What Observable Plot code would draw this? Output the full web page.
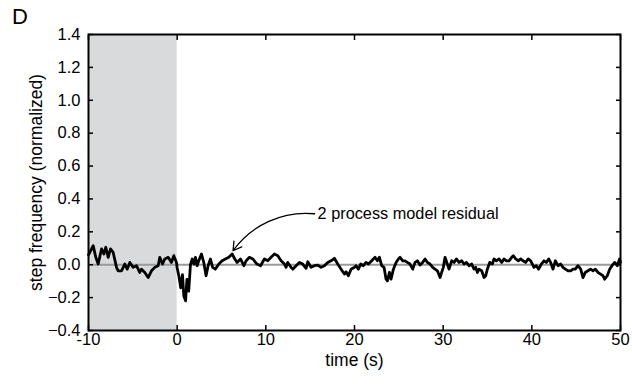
<!DOCTYPE html>
<html><head><meta charset="utf-8">
<script src="https://cdn.jsdelivr.net/npm/d3@7"></script>
<script src="https://cdn.jsdelivr.net/npm/@observablehq/plot@0.6"></script>
<style>
body{margin:0;background:#fff;font-family:"Liberation Sans",Arial,sans-serif}
#wrap{position:relative;width:632px;height:384px}
#panel{position:absolute;left:12px;top:6px;font-size:22px;line-height:1;color:#000}
</style>
</head><body><div id="wrap"><div id="panel">D</div><div id="chart"></div></div>
<script>
const times = [-10,-9.85,-9.47,-9.18,-8.91,-8.53,-8.27,-8.05,-7.78,-7.52,-7.22,-6.84,-6.65,-6.28,-5.91,-5.64,-5.34,-4.96,-4.59,-4.22,-4.02,-3.65,-3.27,-2.9,-2.52,-2.14,-1.96,-1.66,-1.4,-1.01,-0.64,-0.38,-0.08,
0.0,0.2,0.4,0.6,0.75,0.95,1.1,1.3,1.5,1.7,1.9,2.06,2.25,2.44,2.74,3.0,3.26,3.49,3.75,4.0,4.3,4.7,5.07,5.44,5.82,6.2,6.5,6.76,7.14,7.52,7.78,8.15,8.53,9.0,9.4,
9.84,10.22,10.59,10.97,11.35,11.72,12.1,12.28,12.47,12.85,13.04,13.41,13.79,14.16,14.54,14.73,15.1,15.48,15.86,16.23,16.61,16.98,17.36,17.73,18.11,18.49,18.86,19.05,19.31,19.61,
20.0,20.18,20.44,20.7,21.0,21.3,21.57,21.83,22.13,22.32,22.58,22.81,23.07,23.33,23.56,23.71,23.93,24.12,24.39,24.69,24.95,25.14,25.44,25.7,25.96,26.26,26.57,26.83,27.09,27.39,27.69,27.96,28.22,28.52,28.82,29.08,29.35,29.65,29.83,
30.02,30.21,30.47,30.66,30.96,31.23,31.49,31.79,32.09,32.35,32.62,32.92,33.22,33.48,33.67,33.86,34.04,34.34,34.61,34.8,34.98,35.25,35.55,35.73,36.0,36.3,36.6,36.86,37.13,37.43,37.73,37.91,38.18,38.48,38.74,39.0,39.3,39.6,39.87,
40.06,40.24,40.51,40.77,41.07,41.37,41.63,41.9,42.12,42.39,42.65,42.95,43.25,43.51,43.78,44.08,44.38,44.64,44.9,45.2,45.51,45.77,46.03,46.33,46.63,46.9,47.16,47.46,47.76,48.02,48.21,48.51,48.78,49.04,49.34,49.64,49.9,50.0];
const values = [0.06,0.075,0.116,0.045,0.004,0.096,0.065,0.106,0.045,0.096,0.075,-0.016,-0.037,-0.037,0.004,-0.027,0.014,-0.016,-0.006,-0.047,-0.027,-0.047,-0.078,-0.037,-0.016,-0.006,0.045,0.004,0.035,0.045,0.014,0.055,0.014,
-0.02,-0.07,-0.14,-0.06,-0.19,-0.22,-0.09,-0.16,0.0,0.035,0.004,0.045,-0.006,0.025,0.065,0.014,-0.067,-0.006,0.035,-0.016,-0.027,0.004,0.024,0.035,0.045,0.065,0.035,0.014,0.035,-0.006,0.024,0.045,0.035,0.004,-0.006,
0.035,0.024,0.045,0.065,0.055,0.024,0.004,-0.016,0.014,-0.016,-0.027,-0.006,0.014,0.004,-0.022,0.018,-0.016,-0.006,-0.002,-0.016,-0.006,0.014,0.024,0.039,0.004,-0.027,-0.057,-0.043,-0.067,-0.027,
-0.016,-0.006,-0.027,0.004,-0.006,0.014,0.004,0.018,0.035,0.045,0.024,0.045,-0.006,-0.016,-0.088,-0.098,-0.047,-0.088,-0.027,0.014,0.035,0.045,0.024,0.024,0.014,0.004,-0.027,0.014,0.024,-0.002,0.014,0.035,0.014,0.004,-0.016,-0.027,-0.037,-0.078,-0.047,
-0.016,0.045,0.004,-0.027,0.024,0.014,0.035,0.014,0.024,0.004,0.014,-0.006,0.004,-0.027,-0.016,-0.047,-0.027,-0.037,-0.078,-0.067,-0.027,0.014,0.004,0.035,0.024,0.035,0.014,0.035,0.024,0.024,0.045,0.055,0.035,0.024,0.035,0.024,0.014,0.035,0.024,
0.004,-0.016,-0.006,-0.027,0.004,0.024,0.014,0.035,0.014,-0.027,0.024,-0.006,0.004,-0.016,-0.027,-0.037,-0.037,-0.027,-0.027,-0.006,-0.027,-0.078,-0.047,-0.037,-0.027,-0.037,-0.027,-0.047,-0.057,-0.067,-0.088,-0.067,-0.027,-0.006,0.014,-0.006,0.035,0.014];
const xTicks = [-10,0,10,20,30,40,50];
const yTicks = [-0.4,-0.2,0,0.2,0.4,0.6,0.8,1.0,1.2,1.4];
const shade = [{x1:-10, x2:0}];
const zeroLine = [0];
const annotationText = "2 process model residual";
const arrowFrom = {t:15.5, v:0.31};
const arrowTo = {t:6.3, v:0.085};
const xLabel = "time (s)";
const yLabel = "step frequency (normalized)";

const data = times.map((t,i)=>({t, v: values[i]}));

const chart = Plot.plot({
  width: 632, height: 384,
  marginLeft: 88, marginRight: 12, marginTop: 34, marginBottom: 54,
  style: {fontFamily: '"Liberation Sans", Arial, sans-serif', fontSize: "17px", color: "#000", background: "#fff"},
  x: {domain: [-10, 50]},
  y: {domain: [-0.4, 1.4]},
  marks: [
    Plot.rect(shade, {x1:"x1", x2:"x2", y1:-0.4, y2:1.4, fill:"#d9dadc"}),
    Plot.ruleY(zeroLine, {stroke:"#9a9a9a", strokeWidth:2}),
    Plot.line(data, {x:"t", y:"v", stroke:"#000", strokeWidth:2.8, strokeLinejoin:"round"}),
    Plot.arrow([0], {x1:arrowFrom.t, y1:arrowFrom.v, x2:arrowTo.t, y2:arrowTo.v, bend:-30, stroke:"#000", strokeWidth:1.3, headLength:11}),
    Plot.text([annotationText], {x:arrowFrom.t, y:arrowFrom.v, text:d=>d, textAnchor:"start", dx:3, fontSize:16.3}),
    Plot.axisX(xTicks, {anchor:"bottom", tickSize:-5, tickPadding:8, fontSize:16.5, tickFormat:d=>String(d), label:null, strokeWidth:1.5}),
    Plot.text([xLabel], {frameAnchor:"bottom", dy:30, text:d=>d, fontSize:17.5, textAnchor:"middle", lineAnchor:"middle"}),
    Plot.axisX(xTicks, {anchor:"top", tickSize:-5, tickFormat:null, text:null, label:null, strokeWidth:1.5}),
    Plot.axisY(yTicks, {anchor:"left", tickSize:-5, tickPadding:13, fontSize:16.5, tickFormat:d3.format(".1f"), label:null, strokeWidth:1.5}),
    Plot.text([yLabel], {frameAnchor:"left", dx:-52, rotate:-90, text:d=>d, fontSize:17.5, textAnchor:"middle", lineAnchor:"middle"}),
    Plot.axisY(yTicks, {anchor:"right", tickSize:-5, tickFormat:null, text:null, label:null, strokeWidth:1.5}),
    Plot.frame({stroke:"#000", strokeWidth:2})
  ]
});
document.getElementById("chart").appendChild(chart);
</script>
</body></html>
